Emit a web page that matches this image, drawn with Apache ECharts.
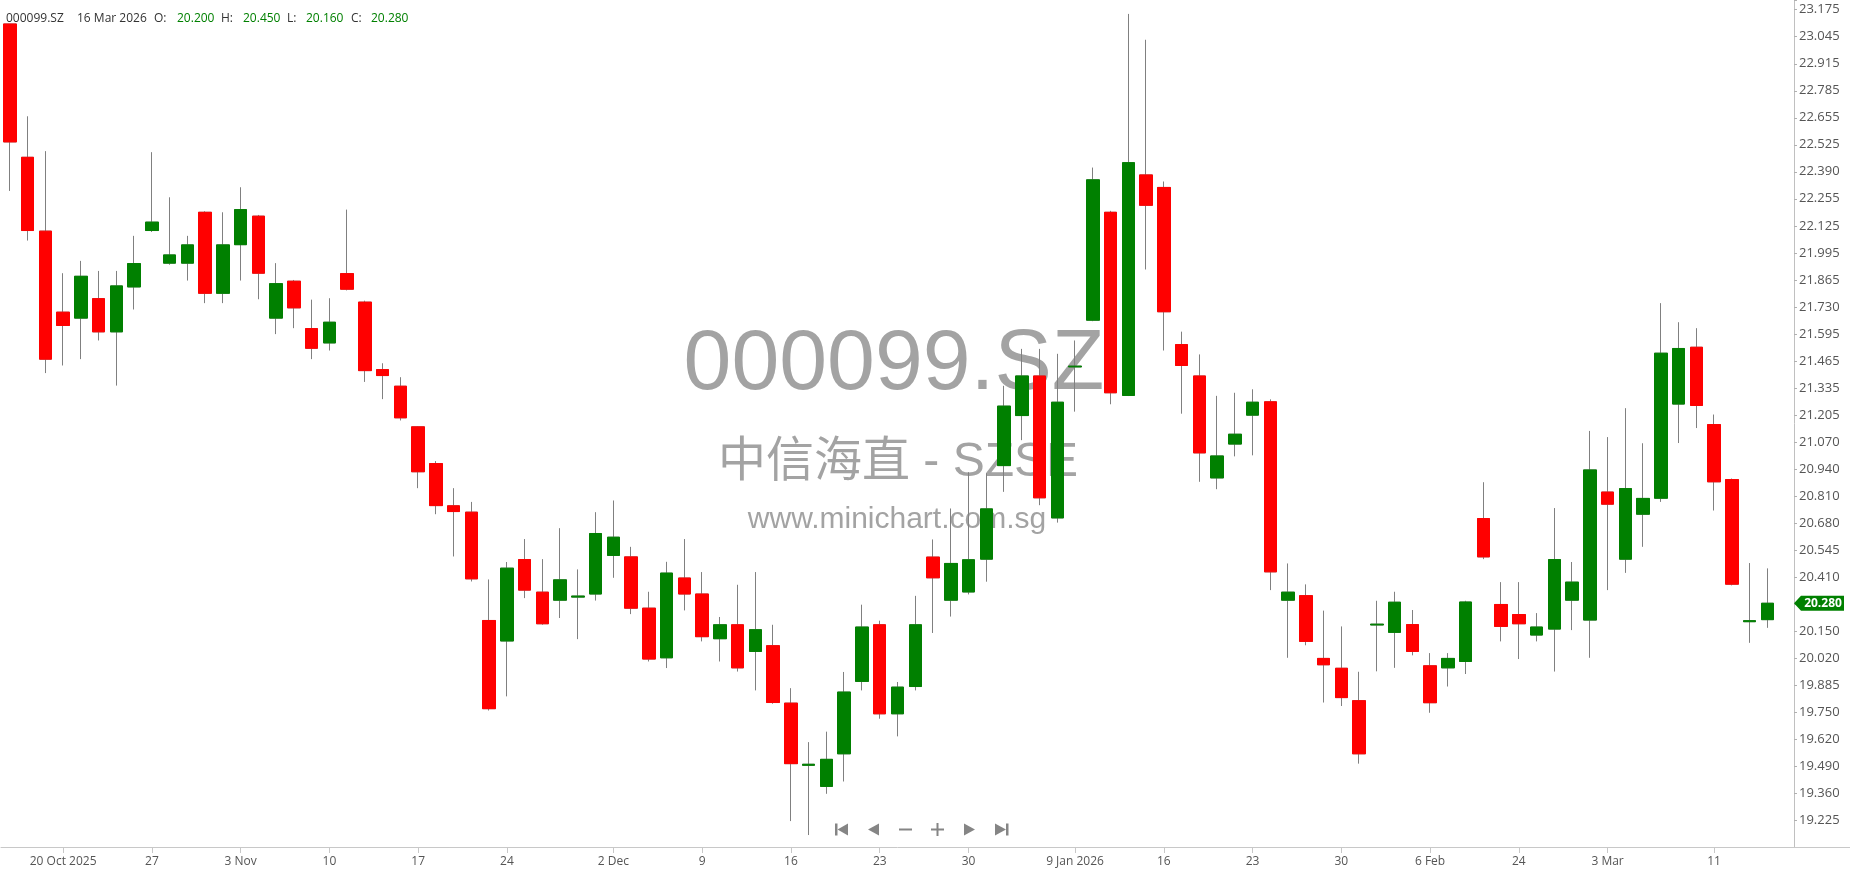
<!DOCTYPE html>
<html><head><meta charset="utf-8">
<script src="https://cdn.jsdelivr.net/npm/echarts@6/dist/echarts.min.js"></script>
<style>html,body{margin:0;padding:0;background:#fff;overflow:hidden}#c{width:1850px;height:874px}</style>
</head><body><div id="c"></div>
<script>
const symbolCode = '000099.SZ';
const wmName = '中信海直 - SZSE';
const wmSite = 'www.minichart.com.sg';
const dates = [
'2025-10-15','2025-10-16','2025-10-17','2025-10-20','2025-10-21','2025-10-22','2025-10-23','2025-10-24','2025-10-27','2025-10-28','2025-10-29','2025-10-30','2025-10-31',
'2025-11-03','2025-11-04','2025-11-05','2025-11-06','2025-11-07','2025-11-10','2025-11-11','2025-11-12','2025-11-13','2025-11-14','2025-11-17','2025-11-18','2025-11-19','2025-11-20','2025-11-21','2025-11-24','2025-11-25','2025-11-26','2025-11-27','2025-11-28',
'2025-12-01','2025-12-02','2025-12-03','2025-12-04','2025-12-05','2025-12-08','2025-12-09','2025-12-10','2025-12-11','2025-12-12','2025-12-15','2025-12-16','2025-12-17','2025-12-18','2025-12-19','2025-12-22','2025-12-23','2025-12-24','2025-12-25','2025-12-26','2025-12-29','2025-12-30','2025-12-31',
'2026-01-05','2026-01-06','2026-01-07','2026-01-08','2026-01-09','2026-01-12','2026-01-13','2026-01-14','2026-01-15','2026-01-16','2026-01-19','2026-01-20','2026-01-21','2026-01-22','2026-01-23','2026-01-26','2026-01-27','2026-01-28','2026-01-29','2026-01-30',
'2026-02-02','2026-02-03','2026-02-04','2026-02-05','2026-02-06','2026-02-09','2026-02-10','2026-02-11','2026-02-12','2026-02-24','2026-02-25','2026-02-26','2026-02-27',
'2026-03-02','2026-03-03','2026-03-04','2026-03-05','2026-03-06','2026-03-09','2026-03-10','2026-03-11','2026-03-12','2026-03-13','2026-03-16'];
const openP = [23.104,22.454,22.094,21.699,21.670,21.765,21.603,21.822,22.097,21.938,21.938,22.186,21.791,22.028,22.167,21.670,21.850,21.619,21.549,21.887,
21.748,21.419,21.338,21.140,20.961,20.755,20.724,20.196,20.096,20.493,20.334,20.295,20.310,20.325,20.513,20.506,20.256,20.014,20.403,20.325,
20.107,20.175,20.045,20.073,19.793,19.490,19.387,19.546,19.899,20.175,19.741,19.874,20.505,20.295,20.335,20.495,20.951,21.195,21.388,20.696,
21.432,21.660,22.186,21.293,22.368,22.307,21.541,21.388,20.891,21.056,21.197,21.262,20.295,20.317,20.011,19.963,19.805,20.174,20.138,20.176,
19.975,19.965,19.996,20.693,20.274,20.225,20.125,20.154,20.295,20.198,20.822,20.495,20.714,20.792,21.251,21.528,21.151,20.883,20.190,20.200];
const highP = [23.104,22.654,22.484,21.889,21.949,21.900,21.900,22.071,22.479,22.259,22.071,22.191,22.186,22.308,22.173,21.938,21.856,21.760,21.767,22.199,
21.755,21.450,21.382,21.143,20.973,20.841,20.774,20.396,20.481,20.593,20.495,20.646,20.445,20.724,20.781,20.555,20.336,20.482,20.593,20.432,
20.213,20.370,20.432,20.175,19.866,19.603,19.654,19.945,20.273,20.195,19.896,20.316,20.591,20.742,20.919,20.914,21.340,21.520,21.520,21.496,
21.561,22.404,22.193,23.153,23.027,22.336,21.604,21.493,21.291,21.306,21.323,21.274,20.474,20.372,20.244,20.167,19.946,20.292,20.336,20.247,
20.037,20.037,20.292,20.870,20.383,20.383,20.232,20.744,20.481,21.120,21.090,21.231,21.060,21.743,21.650,21.621,21.200,20.888,20.476,20.450];
const lowP = [22.290,22.048,21.402,21.439,21.470,21.561,21.341,21.712,22.090,21.930,21.853,21.743,21.743,21.853,21.762,21.592,21.621,21.470,21.512,21.805,
21.359,21.275,21.171,20.841,20.714,20.508,20.386,19.757,19.826,20.305,20.175,20.208,20.105,20.293,20.404,20.227,19.996,19.964,20.245,20.094,
19.996,19.947,19.855,19.790,19.218,19.150,19.351,19.411,19.855,19.717,19.631,19.855,20.135,20.215,20.323,20.385,20.823,21.075,20.758,20.673,
21.214,21.655,21.250,21.290,21.907,21.512,21.204,20.872,20.836,20.996,21.001,20.344,20.014,20.075,19.796,19.779,19.498,19.948,19.965,20.026,
19.746,19.874,19.935,20.495,20.094,20.008,20.094,19.947,20.149,20.014,20.344,20.428,20.555,20.774,21.061,21.134,20.732,20.367,20.087,20.160];
const closeP = [22.529,22.097,21.470,21.634,21.874,21.603,21.827,21.936,22.138,21.978,22.027,21.791,22.027,22.199,21.889,21.838,21.720,21.523,21.650,21.811,
21.414,21.390,21.184,20.921,20.756,20.727,20.399,19.766,20.451,20.344,20.180,20.394,20.315,20.620,20.602,20.256,20.008,20.427,20.325,20.117,
20.175,19.965,20.151,19.796,19.498,19.495,19.519,19.847,20.164,19.741,19.871,20.175,20.404,20.474,20.492,20.740,21.241,21.388,20.794,21.260,
21.436,22.344,21.306,22.428,22.220,21.701,21.439,21.013,20.998,21.104,21.260,20.433,20.334,20.094,19.980,19.820,19.546,20.178,20.285,20.045,
19.795,20.011,20.286,20.506,20.167,20.180,20.164,20.493,20.383,20.930,20.763,20.839,20.791,21.499,21.522,21.244,20.872,20.373,20.195,20.280];
const tickDates = ['2025-10-20','2025-10-27','2025-11-03','2025-11-10','2025-11-17','2025-11-24','2025-12-02','2025-12-09','2025-12-16','2025-12-23','2025-12-30','2026-01-09','2026-01-16','2026-01-23','2026-01-30','2026-02-06','2026-02-24','2026-03-03','2026-03-11'];
const tickLabels = ['20 Oct 2025','27','3 Nov','10','17','24','2 Dec','9','16','23','30','9 Jan 2026','16','23','30','6 Feb','24','3 Mar','11'];
const yLabels = ['19.225','19.360','19.490','19.620','19.750','19.885','20.020','20.150','20.280','20.410','20.545','20.680','20.810','20.940','21.070','21.205','21.335','21.465','21.595','21.730','21.865','21.995','22.125','22.255','22.390','22.525','22.655','22.785','22.915','23.045','23.175'];

const GREEN = '#008000', RED = '#ff0000', WICK = '#808080';
const STEP = (23.175 - 19.225) / 30;
const FIRST = 146;
const FONT = '"Open Sans", "Noto Sans", sans-serif';

const chart = echarts.init(document.getElementById('c'), null, {renderer: 'canvas'});
const full = dates.map((d, i) => [openP[i], closeP[i], lowP[i], highP[i]]);
const body = dates.map((d, i) => [openP[i], closeP[i], Math.min(openP[i], closeP[i]), Math.max(openP[i], closeP[i])]);
const isTick = (i, v) => tickDates.indexOf(v) >= 0;

chart.setOption({
  animation: false,
  backgroundColor: '#ffffff',
  grid: {left: 1, right: 56, top: 0, bottom: 27, containLabel: false},
  xAxis: {
    type: 'category', data: dates.concat(['']), boundaryGap: true,
    axisLine: {show: true, lineStyle: {color: '#c8c8c8', width: 1}},
    axisTick: {show: true, alignWithLabel: true, interval: isTick, length: 6, lineStyle: {color: '#c8c8c8'}},
    axisLabel: {interval: isTick, formatter: v => { const k = tickDates.indexOf(v); return k >= 0 ? tickLabels[k] : ''; },
      color: '#555', fontSize: 12, fontFamily: FONT, margin: 9},
    splitLine: {show: false}
  },
  yAxis: {
    type: 'value', position: 'right', scale: true,
    min: (FIRST - 1) * STEP, max: 23.2208, interval: STEP,
    axisLine: {show: true, lineStyle: {color: '#c0c0c0'}},
    axisTick: {show: true, length: 3, lineStyle: {color: '#b0b0b0'}},
    axisLabel: {color: '#555', fontSize: 13, fontFamily: FONT, margin: 5,
      showMinLabel: true, showMaxLabel: true,
      formatter: v => { const r = v / STEP; const n = Math.round(r); if (Math.abs(r - n) > 0.02) return ''; return yLabels[n - FIRST] || ''; }},
    splitLine: {show: false}
  },
  series: [
    {type: 'candlestick', data: full, barWidth: 13, z: 2, silent: true,
      itemStyle: {color: GREEN, color0: RED, borderColor: WICK, borderColor0: WICK, borderColorDoji: WICK, borderWidth: 1}},
    {type: 'candlestick', data: body, barWidth: 13, z: 3, silent: true,
      itemStyle: {color: GREEN, color0: RED, borderColor: GREEN, borderColor0: RED, borderColorDoji: GREEN, borderWidth: 1}}
  ]
});

const n = dates.length - 1;
const lastC = closeP[n];
const py = chart.convertToPixel({yAxisIndex: 0}, lastC);
const axisY = chart.convertToPixel({yAxisIndex: 0}, (FIRST - 1) * STEP);
const d = new Date(dates[n] + 'T00:00:00');
const MON = ['Jan','Feb','Mar','Apr','May','Jun','Jul','Aug','Sep','Oct','Nov','Dec'];
const dateStr = d.getDate() + ' ' + MON[d.getMonth()] + ' ' + d.getFullYear();

function txt(x, y, s, fill, font, align, z) {
  return {type: 'text', x: x, y: y, silent: true, z: z || 50,
    style: {text: s, fill: fill, font: font, align: align || 'left', textAlign: align || 'left', verticalAlign: 'middle', textVerticalAlign: 'middle'}};
}
const hf = '12px ' + FONT;
const G = [];
// watermark
const WM = '#a3a3a3';
G.push({type: 'text', x: 894, y: 365, z: 0, silent: true, style: {text: symbolCode, fill: WM, font: '86px "Liberation Sans", Arial, sans-serif', align: 'center', textAlign: 'center', verticalAlign: 'middle', textVerticalAlign: 'middle'}});
G.push({type: 'text', x: 898, y: 463, z: 0, silent: true, style: {text: wmName, fill: WM, font: '48px "Liberation Sans", "Noto Sans CJK SC", sans-serif', align: 'center', textAlign: 'center', verticalAlign: 'middle', textVerticalAlign: 'middle'}});
G.push({type: 'text', x: 897, y: 520, z: 0, silent: true, style: {text: wmSite, fill: WM, font: '30px "Liberation Sans", Arial, sans-serif', align: 'center', textAlign: 'center', verticalAlign: 'middle', textVerticalAlign: 'middle'}});
// header
G.push(txt(6, 19, symbolCode, '#333', hf));
G.push(txt(77, 19, dateStr, '#333', hf));
G.push(txt(154, 19, 'O:', '#333', hf));
G.push(txt(177, 19, openP[n].toFixed(3), GREEN, hf));
G.push(txt(221, 19, 'H:', '#333', hf));
G.push(txt(243, 19, highP[n].toFixed(3), GREEN, hf));
G.push(txt(287, 19, 'L:', '#333', hf));
G.push(txt(306, 19, lowP[n].toFixed(3), GREEN, hf));
G.push(txt(351, 19, 'C:', '#333', hf));
G.push(txt(371, 19, lastC.toFixed(3), GREEN, hf));
// axis line extension to right edge
G.push({type: 'line', silent: true, z: 40, shape: {x1: 1794, y1: Math.round(axisY) + 0.5, x2: 1850, y2: Math.round(axisY) + 0.5}, style: {stroke: '#c8c8c8', lineWidth: 1}});
// last price marker
G.push({type: 'polygon', silent: true, z: 60, shape: {points: [[1794, py], [1801, py - 7.5], [1844, py - 7.5], [1844, py + 7.5], [1801, py + 7.5]]}, style: {fill: GREEN}});
G.push(txt(1823, py, lastC.toFixed(3), '#ffffff', 'bold 12px ' + FONT, 'center', 70));
// navigation buttons
const NC = '#858585', ny = 829.5;
G.push({type: 'rect', silent: true, z: 60, shape: {x: 835, y: ny - 6, width: 2.5, height: 12}, style: {fill: NC}});
G.push({type: 'polygon', silent: true, z: 60, shape: {points: [[837.5, ny], [848, ny - 6], [848, ny + 6]]}, style: {fill: NC}});
G.push({type: 'polygon', silent: true, z: 60, shape: {points: [[868, ny], [879, ny - 6], [879, ny + 6]]}, style: {fill: NC}});
G.push({type: 'rect', silent: true, z: 60, shape: {x: 899, y: ny - 1, width: 13, height: 2}, style: {fill: NC}});
G.push({type: 'rect', silent: true, z: 60, shape: {x: 931, y: ny - 1, width: 13, height: 2}, style: {fill: NC}});
G.push({type: 'rect', silent: true, z: 60, shape: {x: 936.5, y: ny - 6.5, width: 2, height: 13}, style: {fill: NC}});
G.push({type: 'polygon', silent: true, z: 60, shape: {points: [[975, ny], [964, ny - 6], [964, ny + 6]]}, style: {fill: NC}});
G.push({type: 'polygon', silent: true, z: 60, shape: {points: [[1006, ny], [995, ny - 6], [995, ny + 6]]}, style: {fill: NC}});
G.push({type: 'rect', silent: true, z: 60, shape: {x: 1006, y: ny - 6, width: 2.5, height: 12}, style: {fill: NC}});

chart.setOption({graphic: G});
</script>
</body></html>
